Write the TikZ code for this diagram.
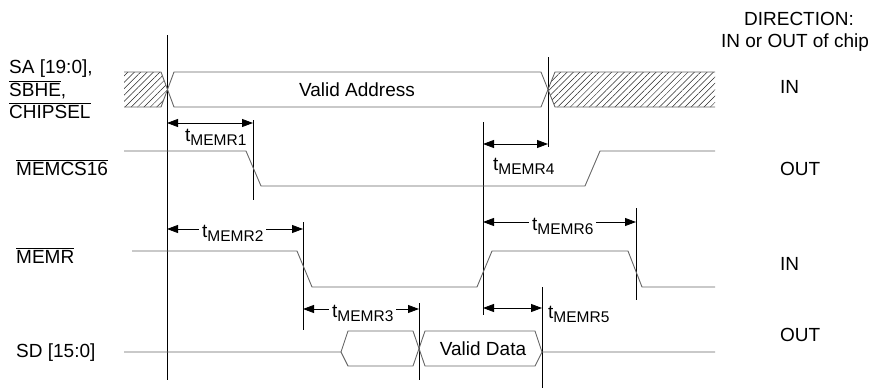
\documentclass[tikz,border=0pt]{standalone}
\usepackage{fontspec}
\setmainfont{Liberation Sans}
\usetikzlibrary{arrows.meta,patterns.meta}

\newcommand{\tmemr}[1]{t\raisebox{-4pt}{\fontsize{15.5}{16}\selectfont MEMR#1}}
\newcommand{\ovl}[1]{$\overline{\mbox{#1}}$}

\begin{document}
\begin{tikzpicture}[x=1pt,y=-1pt,
  every node/.style={font=\fontsize{19}{22}\selectfont,inner sep=0pt},
  signal/.style={black!60,line width=0.9pt},
  marker/.style={black,line width=0.8pt},
  timing/.style={{Triangle[length=11pt,width=8pt]}-{Triangle[length=11pt,width=8pt]},black,line width=0.8pt},
  tlabel/.style={anchor=base west,fill=white,inner xsep=3pt,inner ysep=1pt},
  hatch/.style={pattern={Lines[angle=45,distance=4.5pt,line width=0.5pt]},pattern color=black!85}]

    \useasboundingbox (0,0) rectangle (873,391);

    % time markers
    \coordinate (t1) at (167,0);
    \coordinate (t2) at (253,0);
    \coordinate (t3) at (303,0);
    \coordinate (t4) at (419,0);
    \coordinate (t5) at (483,0);
    \coordinate (t6) at (542,0);
    \coordinate (t7) at (548,0);
    \coordinate (t8) at (636,0);

    \draw[marker] (t1 |- 0,35) -- (t1 |- 0,380);
    \draw[marker] (t2 |- 0,120) -- (t2 |- 0,200);
    \draw[marker] (t3 |- 0,222) -- (t3 |- 0,330);
    \draw[marker] (t4 |- 0,303) -- (t4 |- 0,380);
    \draw[marker] (t5 |- 0,122) -- (t5 |- 0,315);
    \draw[marker] (t6 |- 0,287) -- (t6 |- 0,388);
    \draw[marker] (t7 |- 0,57) -- (t7 |- 0,147);
    \draw[marker] (t8 |- 0,208) -- (t8 |- 0,300);

    % SA, SBHE, CHIPSEL
    \fill[hatch] (124,72) -- (161,72) -- (167.5,89.5) -- (161,107) -- (124,107) -- cycle;
    \fill[hatch] (548,89.5) -- (555,72) -- (715,72) -- (715,107) -- (555,107) -- cycle;
    \draw[signal] (124,72) -- (161,72) -- (174,107) -- (541,107) -- (555,72) -- (715,72);
    \draw[signal] (124,107) -- (161,107) -- (174,72) -- (541,72) -- (555,107) -- (715,107);
    \node (addr) at (357,89.5) {Valid Address};

    % MEMCS16
    \draw[signal] (124,151) -- (246,151) -- (261,186) -- (585,186) -- (600,151) -- (715,151);

    % MEMR
    \draw[signal] (132,251) -- (297,251) -- (312,287) -- (477,287) -- (492,251)
        -- (628,251) -- (642,287) -- (715,287);

    % SD
    \draw[signal] (124,352) -- (341,352) -- (348,331) -- (413,331) -- (425,366)
        -- (535,366) -- (542,352) -- (715,352);
    \draw[signal] (341,352) -- (348,366) -- (413,366) -- (425,331) -- (535,331) -- (542,352);
    \node (data) at (483,349) {Valid Data};

    % timing arrows
    \draw[timing] (t1 |- 0,123) -- (t2 |- 0,123);
    \node[tlabel,fill=none] (l1) at (182,141) {\tmemr{1}};
    \draw[timing] (t1 |- 0,229) -- (t3 |- 0,229);
    \node[tlabel] (l2) at (199,237) {\tmemr{2}};
    \draw[timing] (t3 |- 0,309) -- (t4 |- 0,309);
    \node[tlabel] (l3) at (329,317) {\tmemr{3}};
    \draw[timing] (t5 |- 0,144) -- (t7 |- 0,144);
    \node[tlabel,fill=none] (l4) at (490,170) {\tmemr{4}};
    \draw[timing] (t5 |- 0,308) -- (t6 |- 0,308);
    \node[tlabel,fill=none] (l5) at (545,318) {\tmemr{5}};
    \draw[timing] (t5 |- 0,222) -- (t8 |- 0,222);
    \node[tlabel] (l6) at (529,230) {\tmemr{6}};

    % signal names
    \node[anchor=base west] (sa) at (9,73) {SA [19:0],};
    \node[anchor=base west] (sbhe) at (9,96) {\ovl{SBHE},};
    \node[anchor=base west] (chipsel) at (9,118) {\ovl{CHIPSEL}};
    \node[anchor=base west] (memcs) at (16,175) {\ovl{MEMCS16}};
    \node[anchor=base west] (memr) at (16,263) {\ovl{MEMR}};
    \node[anchor=base west] (sd) at (16,357) {SD [15:0]};

    % direction
    \node[anchor=base] (dir) at (799,25) {DIRECTION:};
    \node[anchor=base] (dir2) at (795,47) {IN or OUT of chip};
    \node[anchor=base west] (d1) at (780,93) {IN};
    \node[anchor=base west] (d2) at (780,175) {OUT};
    \node[anchor=base west] (d3) at (780,270) {IN};
    \node[anchor=base west] (d4) at (780,341) {OUT};
\end{tikzpicture}
\end{document}
